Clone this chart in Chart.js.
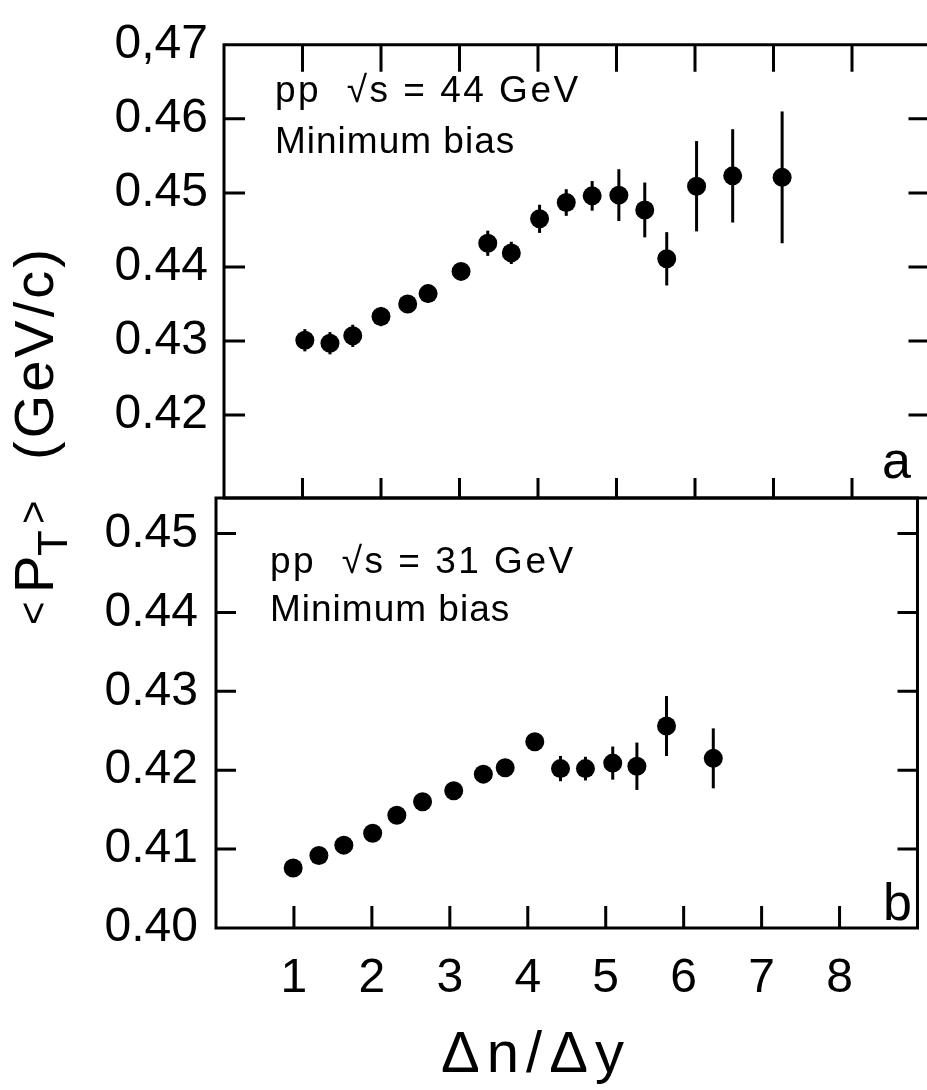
<!DOCTYPE html>
<html><head><meta charset="utf-8">
<script src="https://cdn.jsdelivr.net/npm/chart.js@4.4.1/dist/chart.umd.min.js"></script>
<style>
html,body{margin:0;padding:0;background:#fff;overflow:hidden;width:927px;height:1090px}
#wrap{position:relative;width:927px;height:1090px;overflow:hidden;background:#fff}
canvas{position:absolute;left:0;top:0}
</style></head><body>
<div id="wrap">
<canvas id="botChart" width="927" height="1090"></canvas>
<canvas id="topChart" width="940" height="1090"></canvas>
</div>
<script>
// ---- data ----
const xTicks = [1, 2, 3, 4, 5, 6, 7, 8];
const xTickLabels = ['1', '2', '3', '4', '5', '6', '7', '8'];

const yTicksTop = [0.42, 0.43, 0.44, 0.45, 0.46, 0.47];
const yTickLabelsTop = ['0.42', '0.43', '0.44', '0.45', '0.46', '0,47'];
const yTicksBot = [0.40, 0.41, 0.42, 0.43, 0.44, 0.45];
const yTickLabelsBot = ['0.40', '0.41', '0.42', '0.43', '0.44', '0.45'];

// panel a: pp sqrt(s) = 44 GeV
const xTop = [1.03, 1.35, 1.64, 2.00, 2.34, 2.60, 3.02, 3.36, 3.66, 4.02, 4.36, 4.69, 5.03, 5.36, 5.64, 6.02, 6.48, 7.11];
const yTop = [0.4301, 0.4297, 0.4307, 0.4333, 0.4350, 0.4364, 0.4394, 0.4432, 0.4419, 0.4465, 0.4487, 0.4496, 0.4497, 0.4477, 0.4411, 0.4509, 0.4523, 0.4521];
const errTop = [0.0015, 0.0015, 0.0015, 0.0013, 0.0011, 0.0012, 0.0011, 0.0017, 0.0015, 0.0019, 0.0018, 0.0020, 0.0035, 0.0037, 0.0036, 0.0061, 0.0063, 0.0089];

// panel b: pp sqrt(s) = 31 GeV
const xBot = [0.99, 1.32, 1.64, 2.01, 2.32, 2.65, 3.05, 3.43, 3.71, 4.09, 4.42, 4.74, 5.09, 5.40, 5.78, 6.38];
const yBot = [0.4076, 0.4092, 0.4105, 0.4120, 0.4143, 0.4160, 0.4174, 0.4195, 0.4203, 0.4236, 0.4202, 0.4202, 0.4209, 0.4205, 0.4256, 0.4215];
const errBot = [0.0008, 0.0008, 0.0008, 0.0008, 0.0008, 0.0008, 0.0008, 0.0008, 0.0008, 0.0008, 0.0016, 0.0015, 0.0021, 0.0030, 0.0038, 0.0038];

const FONT = '"Liberation Sans", Arial, sans-serif';

function setLS(ctx, v) { if ('letterSpacing' in ctx) ctx.letterSpacing = v; }

function panelPlugin(opt) {
  return {
    id: 'panel_' + opt.name,
    beforeDatasetsDraw(chart) {
      const ctx = chart.ctx, xs = chart.scales.x, ys = chart.scales.y;
      ctx.save();
      ctx.strokeStyle = '#000';
      ctx.lineWidth = 3;
      chart.data.datasets.forEach(ds => {
        (ds.data || []).forEach((p, i) => {
          const e = ds.errors[i];
          const px = xs.getPixelForValue(p.x);
          ctx.beginPath();
          ctx.moveTo(px, ys.getPixelForValue(p.y - e));
          ctx.lineTo(px, ys.getPixelForValue(p.y + e));
          ctx.stroke();
        });
      });
      ctx.restore();
    },
    afterDraw(chart) {
      const ctx = chart.ctx, a = chart.chartArea, xs = chart.scales.x, ys = chart.scales.y;
      ctx.save();
      ctx.strokeStyle = '#000';
      ctx.fillStyle = '#000';
      ctx.lineWidth = 3;
      ctx.lineCap = 'square';
      // frame
      ctx.beginPath();
      ctx.moveTo(a.left, a.top); ctx.lineTo(a.right, a.top);
      ctx.moveTo(a.left, a.bottom); ctx.lineTo(a.right, a.bottom);
      ctx.moveTo(a.left, a.top); ctx.lineTo(a.left, a.bottom);
      ctx.moveTo(a.right, a.top); ctx.lineTo(a.right, a.bottom);
      ctx.stroke();
      ctx.lineCap = 'butt';
      // inward ticks
      ctx.beginPath();
      xTicks.forEach(v => {
        const px = xs.getPixelForValue(v);
        if (opt.topTick) { ctx.moveTo(px, a.top); ctx.lineTo(px, a.top + opt.topTick); }
        if (opt.botTick) { ctx.moveTo(px, a.bottom); ctx.lineTo(px, a.bottom - opt.botTick); }
      });
      opt.yTicks.forEach(v => {
        const py = ys.getPixelForValue(v);
        if (py <= a.top + 2 || py >= a.bottom - 2) return;
        ctx.moveTo(a.left, py); ctx.lineTo(a.left + opt.leftTick, py);
        ctx.moveTo(a.right, py); ctx.lineTo(a.right - opt.rightTick, py);
      });
      ctx.stroke();
      // annotations
      ctx.textAlign = 'left';
      ctx.textBaseline = 'alphabetic';
      ctx.font = '37px ' + FONT;
      setLS(ctx, '2.5px');
      ctx.fillText(opt.line1, opt.textX, opt.base1);
      setLS(ctx, '1px');
      ctx.fillText(opt.line2, opt.textX, opt.base2);
      setLS(ctx, '0px');
      ctx.font = '52px ' + FONT;
      ctx.fillText(opt.letter, opt.letterX, opt.letterY);
      if (opt.extra) opt.extra(ctx, chart);
      ctx.restore();
    }
  };
}

function drawTitles(ctx) {
  // y-axis title  <P_T>  (GeV/c)
  ctx.save();
  ctx.translate(53, 623);
  ctx.rotate(-Math.PI / 2);
  ctx.textAlign = 'left';
  ctx.textBaseline = 'alphabetic';
  ctx.fillStyle = '#000';
  ctx.font = '40px ' + FONT;
  ctx.fillText('<', -2, -6);
  ctx.font = '56px ' + FONT;
  ctx.fillText('P', 30, 0);
  ctx.font = '42px ' + FONT;
  ctx.fillText('T', 67, 14);
  ctx.font = '40px ' + FONT;
  ctx.fillText('>', 99, -6);
  ctx.font = '56px ' + FONT;
  setLS(ctx, '3px');
  ctx.fillText('(GeV/c)', 163, 0);
  ctx.restore();
  // x-axis title
  ctx.save();
  ctx.fillStyle = '#000';
  ctx.font = '58px ' + FONT;
  ctx.textAlign = 'center';
  ctx.textBaseline = 'alphabetic';
  setLS(ctx, '7px');
  ctx.fillText('Δn/Δy', 536, 1072);
  ctx.restore();
}

function makeChart(id, o) {
  return new Chart(document.getElementById(id), {
    type: 'scatter',
    data: {
      datasets: [{
        data: o.xs.map((x, i) => ({ x: x, y: o.ys[i] })),
        errors: o.errs,
        pointRadius: 9.5,
        pointHoverRadius: 9.5,
        pointBackgroundColor: '#000',
        pointBorderColor: '#000',
        pointBorderWidth: 0,
        showLine: false
      }]
    },
    options: {
      responsive: false,
      animation: false,
      devicePixelRatio: 1,
      events: [],
      layout: { padding: o.padding },
      plugins: { legend: { display: false }, tooltip: { enabled: false }, title: { display: false } },
      scales: {
        x: {
          type: 'linear', min: 0, max: 9,
          display: o.showX,
          afterBuildTicks: s => { s.ticks = xTicks.map(v => ({ value: v })); },
          afterFit: s => { if (o.xHeight) s.height = o.xHeight; },
          grid: { display: false, drawTicks: false },
          border: { display: false },
          ticks: {
            autoSkip: false, maxRotation: 0, padding: 22, color: '#000',
            font: { family: FONT, size: 48 },
            callback: (v, i) => xTickLabels[i]
          }
        },
        y: {
          type: 'linear', min: o.yMin, max: o.yMax,
          afterBuildTicks: s => { s.ticks = o.yTicks.map(v => ({ value: v })); },
          afterFit: s => { s.width = o.yWidth; },
          grid: { display: false, drawTicks: false },
          border: { display: false },
          ticks: {
            autoSkip: false, padding: o.yPad, color: '#000',
            font: { family: FONT, size: 48 },
            callback: (v, i) => o.yLabels[i]
          }
        }
      }
    },
    plugins: [o.plugin]
  });
}

makeChart('botChart', {
  xs: xBot, ys: yBot, errs: errBot,
  yMin: 0.40, yMax: 0.4545, yTicks: yTicksBot, yLabels: yTickLabelsBot,
  yWidth: 216, yPad: 18, showX: true, xHeight: 162,
  padding: { top: 498, right: 4, bottom: 0, left: 0 },
  plugin: panelPlugin({
    name: 'b', yTicks: yTicksBot, topTick: 0, botTick: 22, leftTick: 20, rightTick: 20,
    line1: 'pp  √s = 31 GeV', line2: 'Minimum bias', textX: 270, base1: 573, base2: 621,
    letter: 'b', letterX: 883, letterY: 920,
    extra: (ctx) => drawTitles(ctx)
  })
});

makeChart('topChart', {
  xs: xTop, ys: yTop, errs: errTop,
  yMin: 0.4088, yMax: 0.47, yTicks: yTicksTop, yLabels: yTickLabelsTop,
  yWidth: 224, yPad: 16, showX: false, xHeight: 0,
  padding: { top: 33, right: 5, bottom: 592, left: 0 },
  plugin: panelPlugin({
    name: 'a', yTicks: yTicksTop, topTick: 27, botTick: 20, leftTick: 21, rightTick: 22,
    line1: 'pp  √s = 44 GeV', line2: 'Minimum bias', textX: 275, base1: 102, base2: 153,
    letter: 'a', letterX: 882, letterY: 478
  })
});
</script>
</body></html>
